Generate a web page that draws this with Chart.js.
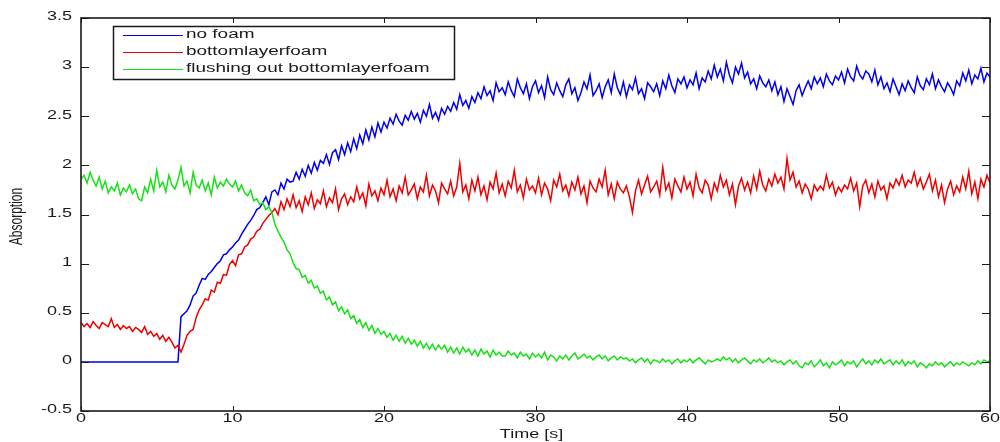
<!DOCTYPE html>
<html>
<head>
<meta charset="utf-8">
<title>Absorption</title>
<script src="https://cdn.jsdelivr.net/npm/chart.js@4.4.1/dist/chart.umd.min.js"></script>
<style>
  html, body { margin: 0; padding: 0; background: #fff; }
  #wrap { width: 1000px; height: 442px; position: relative; }
</style>
</head>
<body>
<div id="wrap"><canvas id="absChart"></canvas></div>
<script>
/* ---- data: absorption sampled every 0.2 s, 0 .. 60 s ---- */
const SAMPLE_STEP = 0.2;

const SERIES_LABELS = ['no foam', 'bottomlayerfoam', 'flushing out bottomlayerfoam'];
const SERIES_COLORS = ['#0000ee', '#ee0000', '#18e018'];

const NO_FOAM = [
  0, 0, 0, 0, 0, 0, 0, 0, 0, 0,                                    // 0 s
  0, 0, 0, 0, 0, 0, 0, 0, 0, 0,                                    // 2 s
  0, 0, 0, 0, 0, 0, 0, 0, 0, 0,                                    // 4 s
  0, 0, 0, 0.46, 0.49, 0.52, 0.58, 0.67, 0.70, 0.78,               // 6 s
  0.85, 0.84, 0.89, 0.92, 0.96, 1.00, 1.03, 1.09, 1.10, 1.14,      // 8 s
  1.17, 1.21, 1.24, 1.30, 1.35, 1.40, 1.44, 1.49, 1.55, 1.57,      // 10 s
  1.62, 1.68, 1.60, 1.73, 1.75, 1.70, 1.82, 1.76, 1.86, 1.83,      // 12 s
  1.84, 1.93, 1.86, 1.96, 1.89, 2.00, 1.92, 2.03, 1.95, 2.05,      // 14 s
  2.02, 2.11, 2.01, 2.13, 2.16, 2.06, 2.20, 2.11, 2.23, 2.14,      // 16 s
  2.27, 2.17, 2.31, 2.22, 2.36, 2.26, 2.39, 2.29, 2.43, 2.34,      // 18 s
  2.44, 2.38, 2.48, 2.42, 2.52, 2.45, 2.41, 2.51, 2.46, 2.55,      // 20 s
  2.47, 2.53, 2.44, 2.56, 2.50, 2.62, 2.48, 2.54, 2.46, 2.58,      // 22 s
  2.52, 2.60, 2.55, 2.64, 2.57, 2.72, 2.61, 2.66, 2.58, 2.70,      // 24 s
  2.64, 2.74, 2.68, 2.80, 2.71, 2.76, 2.66, 2.84, 2.75, 2.79,      // 26 s
  2.72, 2.85, 2.76, 2.70, 2.88, 2.79, 2.73, 2.83, 2.68, 2.80,      // 28 s
  2.86, 2.74, 2.81, 2.69, 2.90, 2.77, 2.72, 2.84, 2.76, 2.70,      // 30 s
  2.82, 2.88, 2.73, 2.79, 2.66, 2.74, 2.85, 2.78, 2.92, 2.71,      // 32 s
  2.76, 2.83, 2.69, 2.80, 2.87, 2.74, 2.93, 2.79, 2.72, 2.85,      // 34 s
  2.70, 2.82, 2.77, 2.89, 2.73, 2.78, 2.68, 2.84, 2.80, 2.75,      // 36 s
  2.83, 2.71, 2.86, 2.78, 2.92, 2.81, 2.74, 2.88, 2.83, 2.90,      // 38 s
  2.79, 2.87, 2.82, 2.94, 2.78, 2.89, 2.85, 2.96, 2.88, 3.02,      // 40 s
  2.90, 2.98, 2.86, 3.05, 2.92, 2.84, 3.00, 2.93, 3.04, 2.89,      // 42 s
  2.95, 2.83, 2.88, 2.78, 2.91, 2.84, 2.80, 2.87, 2.76, 2.85,      // 44 s
  2.72, 2.80, 2.65, 2.78, 2.70, 2.62, 2.76, 2.82, 2.71, 2.79,      // 46 s
  2.86, 2.78, 2.90, 2.83, 2.89, 2.80, 2.93, 2.86, 2.82, 2.91,      // 48 s
  2.87, 2.95, 2.84, 2.98, 2.90, 2.86, 3.01, 2.92, 2.88, 2.96,      // 50 s
  2.93, 2.85, 2.97, 2.82, 2.90, 2.78, 2.84, 2.75, 2.88, 2.80,      // 52 s
  2.72, 2.83, 2.76, 2.86, 2.79, 2.74, 2.90, 2.81, 2.77, 2.88,      // 54 s
  2.82, 2.93, 2.78, 2.87, 2.80, 2.75, 2.84, 2.79, 2.72, 2.86,      // 56 s
  2.81, 2.94, 2.86, 2.97, 2.83, 2.92, 2.88, 2.99, 2.85, 2.94,      // 58 s
  2.90                                                             // 60 s
];

const BOTTOM_FOAM = [
  0.40, 0.36, 0.39, 0.35, 0.41, 0.37, 0.34, 0.40, 0.38, 0.36,      // 0 s
  0.44, 0.35, 0.38, 0.33, 0.37, 0.34, 0.36, 0.31, 0.35, 0.33,      // 2 s
  0.30, 0.36, 0.28, 0.31, 0.26, 0.29, 0.23, 0.27, 0.21, 0.25,      // 4 s
  0.20, 0.14, 0.17, 0.10, 0.18, 0.27, 0.31, 0.33, 0.45, 0.53,      // 6 s
  0.58, 0.64, 0.63, 0.73, 0.71, 0.81, 0.80, 0.89, 0.88, 0.99,      // 8 s
  1.03, 0.98, 1.09, 1.10, 1.17, 1.19, 1.25, 1.27, 1.33, 1.35,      // 10 s
  1.41, 1.45, 1.49, 1.52, 1.56, 1.50, 1.63, 1.55, 1.66, 1.58,      // 12 s
  1.70, 1.57, 1.64, 1.53, 1.68, 1.60, 1.72, 1.56, 1.65, 1.61,      // 14 s
  1.74, 1.58, 1.67, 1.62, 1.76, 1.55, 1.66, 1.71, 1.60, 1.68,      // 16 s
  1.63, 1.78, 1.66, 1.72, 1.59, 1.81, 1.69, 1.74, 1.64, 1.77,      // 18 s
  1.70, 1.85, 1.68, 1.76, 1.64, 1.79, 1.72, 1.88, 1.70, 1.75,      // 20 s
  1.81, 1.66, 1.78, 1.73, 1.90, 1.69, 1.80, 1.74, 1.62, 1.82,      // 22 s
  1.76, 1.71, 1.84, 1.69, 1.78, 2.02, 1.73, 1.80, 1.66, 1.85,      // 24 s
  1.74, 1.88, 1.70, 1.79, 1.65, 1.83, 1.76, 1.92, 1.72, 1.81,      // 26 s
  1.69, 1.84, 1.77, 1.95, 1.73, 1.80, 1.67, 1.86, 1.75, 1.79,      // 28 s
  1.72, 1.87, 1.70, 1.82, 1.76, 1.64, 1.85, 1.78, 1.91, 1.74,      // 30 s
  1.80, 1.69, 1.83, 1.75, 1.88, 1.71, 1.79, 1.62, 1.84, 1.77,      // 32 s
  1.73, 1.86, 1.78, 1.95, 1.70, 1.81, 1.66, 1.83, 1.76, 1.72,      // 34 s
  1.79, 1.68, 1.52, 1.74, 1.85, 1.71, 1.80, 1.89, 1.73, 1.78,      // 36 s
  1.84, 1.70, 1.98, 1.75, 1.82, 1.67, 1.86, 1.79, 1.73, 1.88,      // 38 s
  1.76, 1.83, 1.69, 1.91, 1.77, 1.72, 1.85, 1.80, 1.66, 1.82,      // 40 s
  1.74, 1.90, 1.78, 1.85, 1.70, 1.81, 1.60, 1.79, 1.87, 1.75,      // 42 s
  1.83, 1.72, 1.89, 1.76, 1.94, 1.80, 1.74, 1.86, 1.79, 1.91,      // 44 s
  1.82, 1.88, 1.76, 2.07, 1.85, 1.93, 1.78, 1.84, 1.72, 1.81,      // 46 s
  1.76, 1.66, 1.80, 1.74, 1.79, 1.75, 1.90, 1.77, 1.83, 1.70,      // 48 s
  1.78, 1.73, 1.80, 1.76, 1.87, 1.74, 1.82, 1.58, 1.79, 1.85,      // 50 s
  1.72, 1.81, 1.68, 1.84, 1.75, 1.79, 1.66, 1.82, 1.77, 1.86,      // 52 s
  1.80, 1.90, 1.78, 1.85, 1.82, 1.93, 1.79, 1.87, 1.76, 1.83,      // 54 s
  1.91, 1.74, 1.85, 1.68, 1.80, 1.62, 1.76, 1.84, 1.70, 1.79,      // 56 s
  1.73, 1.88, 1.76, 1.94, 1.71, 1.83, 1.66, 1.86, 1.78, 1.90,      // 58 s
  1.82                                                             // 60 s
];

const FLUSHING_OUT = [
  1.86, 1.90, 1.82, 1.93, 1.85, 1.79, 1.88, 1.76, 1.84, 1.72,      // 0 s
  1.78, 1.74, 1.82, 1.70, 1.77, 1.73, 1.80, 1.71, 1.76, 1.66,      // 2 s
  1.64, 1.78, 1.72, 1.86, 1.74, 1.95, 1.78, 1.83, 1.73, 1.90,      // 4 s
  1.80, 1.76, 1.85, 1.98, 1.79, 1.84, 1.72, 1.93, 1.80, 1.77,      // 6 s
  1.85, 1.74, 1.82, 1.70, 1.88, 1.77, 1.83, 1.79, 1.86, 1.81,      // 8 s
  1.78, 1.84, 1.74, 1.80, 1.72, 1.69, 1.75, 1.64, 1.66, 1.60,      // 10 s
  1.62, 1.55, 1.58, 1.52, 1.40, 1.33, 1.27, 1.22, 1.14, 1.10,      // 12 s
  1.01, 0.95, 0.94, 0.86, 0.88, 0.80, 0.83, 0.75, 0.77, 0.70,      // 14 s
  0.72, 0.63, 0.66, 0.58, 0.61, 0.52, 0.56, 0.49, 0.53, 0.44,      // 16 s
  0.47, 0.39, 0.43, 0.35, 0.40, 0.32, 0.37, 0.29, 0.34, 0.28,      // 18 s
  0.31, 0.25, 0.29, 0.22, 0.27, 0.21, 0.26, 0.19, 0.24, 0.18,      // 20 s
  0.22, 0.16, 0.21, 0.14, 0.19, 0.13, 0.18, 0.12, 0.17, 0.13,      // 22 s
  0.17, 0.10, 0.15, 0.09, 0.14, 0.08, 0.15, 0.10, 0.13, 0.07,      // 24 s
  0.12, 0.06, 0.13, 0.08, 0.11, 0.05, 0.12, 0.07, 0.10, 0.06,      // 26 s
  0.06, 0.11, 0.07, 0.09, 0.04, 0.10, 0.06, 0.08, 0.03, 0.09,      // 28 s
  0.05, 0.08, 0.04, 0.10, 0.02, 0.07, 0.05, 0.01, 0.06, 0.03,      // 30 s
  0.07, 0.02, 0.06, 0.09, 0.03, 0.05, 0.08, 0.04, 0.06, 0.02,      // 32 s
  0.05, 0.07, 0.03, 0.06, 0.01, 0.04, 0.06, 0.02, 0.05, 0.03,      // 34 s
  0.04, 0.01, 0.03, -0.01, 0.02, 0.04, 0.00, 0.03, -0.02, 0.02,    // 36 s
  0.01, -0.01, 0.03, 0.00, 0.02, -0.02, 0.01, 0.03, -0.01, 0.02,   // 38 s
  0.00, 0.03, -0.01, 0.02, 0.04, 0.01, -0.02, 0.02, 0.00, 0.01,    // 40 s
  0.03, 0.01, 0.05, 0.02, 0.04, 0.00, 0.03, -0.01, 0.02, 0.04,     // 42 s
  0.01, -0.02, 0.02, 0.00, 0.03, -0.01, 0.01, 0.04, 0.00, 0.02,    // 44 s
  -0.01, 0.01, -0.03, 0.00, 0.02, -0.02, 0.01, -0.04, -0.06, -0.01, // 46 s
  -0.03, 0.01, -0.05, -0.02, 0.02, -0.04, -0.01, -0.06, 0.00, -0.03, // 48 s
  -0.01, 0.02, -0.04, 0.00, -0.02, 0.01, -0.05, -0.01, 0.03, -0.02, // 50 s
  0.01, -0.03, 0.02, -0.01, 0.03, -0.02, 0.00, 0.02, -0.03, 0.01,  // 52 s
  -0.02, 0.02, -0.04, 0.00, -0.02, 0.01, -0.05, -0.01, -0.03, -0.06, // 54 s
  -0.02, -0.04, 0.00, -0.03, -0.01, -0.05, -0.02, 0.00, -0.04, -0.01, // 56 s
  -0.03, 0.00, -0.02, -0.04, -0.01, -0.03, 0.01, -0.02, 0.02, 0.00, // 58 s
  0.01                                                             // 60 s
];

const X_TICKS = [0, 10, 20, 30, 40, 50, 60];
const X_TICK_LABELS = ['0', '10', '20', '30', '40', '50', '60'];
const Y_TICKS = [-0.5, 0, 0.5, 1, 1.5, 2, 2.5, 3, 3.5];
const Y_TICK_LABELS = ['-0.5', '0', '0.5', '1', '1.5', '2', '2.5', '3', '3.5'];

const X_TITLE = 'Time [s]';
const Y_TITLE = 'Absorption';

// sample times shared by all three traces
const TIME = NO_FOAM.map((_, i) => +(i * SAMPLE_STEP).toFixed(1));
const toPoints = arr => arr.map((v, i) => ({ x: TIME[i], y: v }));

/* ---- look ---- */
const FONT = '12px "Liberation Sans", Arial, sans-serif';
const STRETCH = 1.5;      // text in this figure is drawn wide
const INK = '#1a1a1a';

// draw text widened horizontally
function wideText(ctx, str, x, y, align, sx) {
  ctx.save();
  ctx.translate(x, y);
  ctx.scale(sx, 1);
  ctx.textAlign = align;
  ctx.textBaseline = 'middle';
  ctx.fillText(str, 0, 0);
  ctx.restore();
}

/* frame, inward ticks on all four sides, tick labels, titles and boxed legend */
const matlabAxes = {
  id: 'matlabAxes',
  afterDraw(chart) {
    const ctx = chart.ctx;
    const a = chart.chartArea;
    const xs = chart.scales.x, ys = chart.scales.y;

    ctx.save();
    ctx.strokeStyle = INK;
    ctx.lineWidth = 1;
    ctx.beginPath();
    X_TICKS.forEach(v => {
      const px = Math.round(xs.getPixelForValue(v)) + 0.5;
      ctx.moveTo(px, a.bottom); ctx.lineTo(px, a.bottom - 5);
      ctx.moveTo(px, a.top);    ctx.lineTo(px, a.top + 5);
    });
    Y_TICKS.forEach(v => {
      const py = Math.round(ys.getPixelForValue(v)) + 0.5;
      ctx.moveTo(a.left, py);  ctx.lineTo(a.left + 8, py);
      ctx.moveTo(a.right, py); ctx.lineTo(a.right - 8, py);
    });
    ctx.stroke();

    ctx.lineWidth = 1.6;
    ctx.strokeRect(a.left, a.top, a.right - a.left, a.bottom - a.top);

    // tick labels
    ctx.fillStyle = INK;
    ctx.font = FONT;
    X_TICKS.forEach((v, i) => {
      wideText(ctx, X_TICK_LABELS[i], xs.getPixelForValue(v), a.bottom + 8, 'center', STRETCH);
    });
    Y_TICKS.forEach((v, i) => {
      wideText(ctx, Y_TICK_LABELS[i], a.left - 9, ys.getPixelForValue(v) - 1, 'right', STRETCH);
    });

    // axis titles
    wideText(ctx, X_TITLE, (a.left + a.right) / 2 - 4, a.bottom + 24, 'center', STRETCH);
    ctx.save();
    ctx.translate(17, (a.top + a.bottom) / 2 + 2);
    ctx.scale(STRETCH, 1);
    ctx.rotate(-Math.PI / 2);
    ctx.textAlign = 'center';
    ctx.textBaseline = 'middle';
    ctx.fillText(Y_TITLE, 0, 0);
    ctx.restore();

    // legend
    const lx = 113.5, ly = 26.5, lw = 341, lh = 53;
    ctx.fillStyle = '#fff';
    ctx.fillRect(lx, ly, lw, lh);
    ctx.lineWidth = 1.5;
    ctx.strokeStyle = INK;
    ctx.strokeRect(lx, ly, lw, lh);
    chart.data.datasets.forEach((ds, i) => {
      const yy = 35 + i * 17;
      ctx.strokeStyle = ds.borderColor;
      ctx.lineWidth = 1;
      ctx.beginPath();
      ctx.moveTo(123, yy + 0.5);
      ctx.lineTo(183, yy + 0.5);
      ctx.stroke();
      ctx.fillStyle = INK;
      wideText(ctx, ds.label, 186, yy, 'left', 1.58);
    });
    ctx.restore();
  }
};

const datasets = [NO_FOAM, BOTTOM_FOAM, FLUSHING_OUT].map((arr, i) => ({
  label: SERIES_LABELS[i],
  data: toPoints(arr),
  borderColor: SERIES_COLORS[i],
  borderWidth: 1.5,
  pointRadius: 0,
  tension: 0,
  fill: false,
  order: 3 - i          // later traces sit on top
}));

new Chart(document.getElementById('absChart'), {
  type: 'line',
  data: { datasets },
  options: {
    responsive: true,
    maintainAspectRatio: false,
    animation: false,
    devicePixelRatio: 1,
    layout: { padding: { top: 18, right: 10, left: 0, bottom: 0 } },
    plugins: { legend: { display: false }, tooltip: { enabled: false } },
    scales: {
      x: {
        type: 'linear',
        min: 0,
        max: 60,
        ticks: { display: false, stepSize: 10 },
        grid: { display: false },
        border: { display: false },
        afterFit: s => { s.height = 31; }
      },
      y: {
        min: -0.5,
        max: 3.5,
        ticks: { display: false, stepSize: 0.5 },
        grid: { display: false },
        border: { display: false },
        afterFit: s => { s.width = 81; }
      }
    }
  },
  plugins: [matlabAxes]
});
</script>
</body>
</html>
